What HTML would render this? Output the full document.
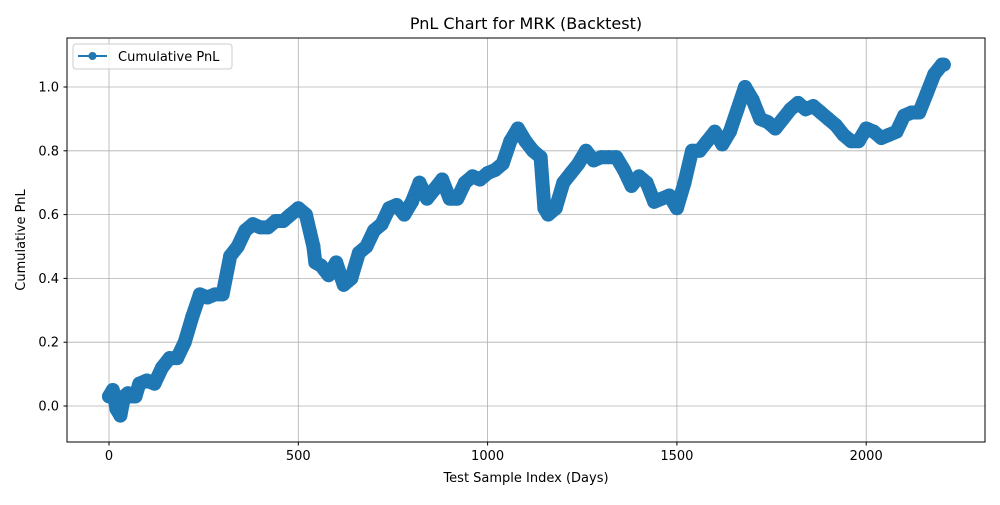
<!DOCTYPE html>
<html><head><meta charset="utf-8"><style>
body{margin:0;background:#fff;}
svg text{font-family:"DejaVu Sans","Liberation Sans",sans-serif;fill:#000;}
</style></head><body>
<svg id="chart" width="1000" height="500" viewBox="0 0 1000 500" xmlns="http://www.w3.org/2000/svg">
<rect width="1000" height="500" fill="#fff"/>
<g id="grid"></g>
<g id="series"></g>
<rect x="67" y="38" width="918" height="404" fill="none" stroke="#000" stroke-width="1"/>
<g id="ticks"></g>
<text x="526" y="29" font-size="16" text-anchor="middle">PnL Chart for MRK (Backtest)</text>
<text x="526" y="482" font-size="13" text-anchor="middle">Test Sample Index (Days)</text>
<text x="25" y="240" font-size="13" text-anchor="middle" transform="rotate(-90 25 240)">Cumulative PnL</text>
<g>
<rect x="73" y="44" width="159" height="25" rx="3" fill="#fff" fill-opacity="0.8" stroke="#ccc"/>
<line x1="78" y1="56" x2="107" y2="56" stroke="#1f77b4" stroke-width="2"/>
<circle cx="92.5" cy="56" r="4" fill="#1f77b4"/>
<text x="118" y="61" font-size="13">Cumulative PnL</text>
</g>
</svg>
<script>
const days=[0,10,20,30,40,50,60,70,80,100,120,140,160,180,200,220,240,260,280,300,320,340,360,380,400,420,440,460,480,500,520,540,545,560,580,600,620,640,660,680,700,720,740,760,780,800,820,840,860,880,900,920,940,960,980,1000,1020,1040,1060,1080,1100,1120,1140,1150,1160,1180,1200,1220,1240,1260,1280,1300,1320,1340,1360,1380,1400,1420,1440,1460,1480,1500,1520,1540,1560,1580,1600,1620,1640,1660,1680,1700,1720,1740,1760,1780,1800,1820,1840,1860,1880,1900,1920,1940,1960,1980,2000,2020,2040,2060,2080,2100,2120,2140,2160,2180,2200,2205];
const pnl=[0.03,0.05,-0.01,-0.03,0.03,0.04,0.03,0.03,0.07,0.08,0.07,0.12,0.15,0.15,0.2,0.28,0.35,0.34,0.35,0.35,0.47,0.5,0.55,0.57,0.56,0.56,0.58,0.58,0.6,0.62,0.6,0.5,0.45,0.44,0.41,0.45,0.38,0.4,0.48,0.5,0.55,0.57,0.62,0.63,0.6,0.64,0.7,0.65,0.68,0.71,0.65,0.65,0.7,0.72,0.71,0.73,0.74,0.76,0.83,0.87,0.83,0.8,0.78,0.62,0.6,0.62,0.7,0.73,0.76,0.8,0.77,0.78,0.78,0.78,0.74,0.69,0.72,0.7,0.64,0.65,0.66,0.62,0.7,0.8,0.8,0.83,0.86,0.82,0.86,0.93,1.0,0.96,0.9,0.89,0.87,0.9,0.93,0.95,0.93,0.94,0.92,0.9,0.88,0.85,0.83,0.83,0.87,0.86,0.84,0.85,0.86,0.91,0.92,0.92,0.98,1.04,1.07,1.07];
const xTicks=[0,500,1000,1500,2000];
const yTicks=[0,0.2,0.4,0.6,0.8,1.0];
const NS="http://www.w3.org/2000/svg";
const X=v=>109+v*0.3786, Y=v=>406-v*319;
function mk(t,a,p){const e=document.createElementNS(NS,t);for(const k in a)e.setAttribute(k,a[k]);p.appendChild(e);return e;}
const grid=document.getElementById('grid'),ticks=document.getElementById('ticks'),ser=document.getElementById('series');
xTicks.forEach(t=>{const x=X(t);
const g=mk('line',{x1:x,x2:x,y1:38,y2:442,stroke:'#b0b0b0','stroke-width':0.8},grid);

mk('line',{x1:x,x2:x,y1:442,y2:445.5,stroke:'#000'},ticks);
const tx=mk('text',{x:x,y:460,'font-size':13,'text-anchor':'middle'},ticks);tx.textContent=t;
});
yTicks.forEach(t=>{const y=Y(t);
const g=mk('line',{x1:67,x2:985,y1:y,y2:y,stroke:'#b0b0b0','stroke-width':0.8},grid);

mk('line',{x1:63.5,x2:67,y1:y,y2:y,stroke:'#000'},ticks);
const tx=mk('text',{x:59,y:y+4.5,'font-size':13,'text-anchor':'end'},ticks);tx.textContent=t.toFixed(1);
});
const d=days.map((v,i)=>(i?'L':'M')+X(v).toFixed(1)+' '+Y(pnl[i]).toFixed(1)).join(' ');
const band=mk('path',{d:d,fill:'none',stroke:'#1f77b4','stroke-width':14,'stroke-linejoin':'round','stroke-linecap':'round'},ser);

const ln=mk('path',{d:d,fill:'none',stroke:'#1f77b4','stroke-width':1.5},ser);

days.forEach((v,i)=>{const c=mk('circle',{cx:X(v),cy:Y(pnl[i]),r:7,fill:'#1f77b4'},ser);
});
</script>
</body></html>
